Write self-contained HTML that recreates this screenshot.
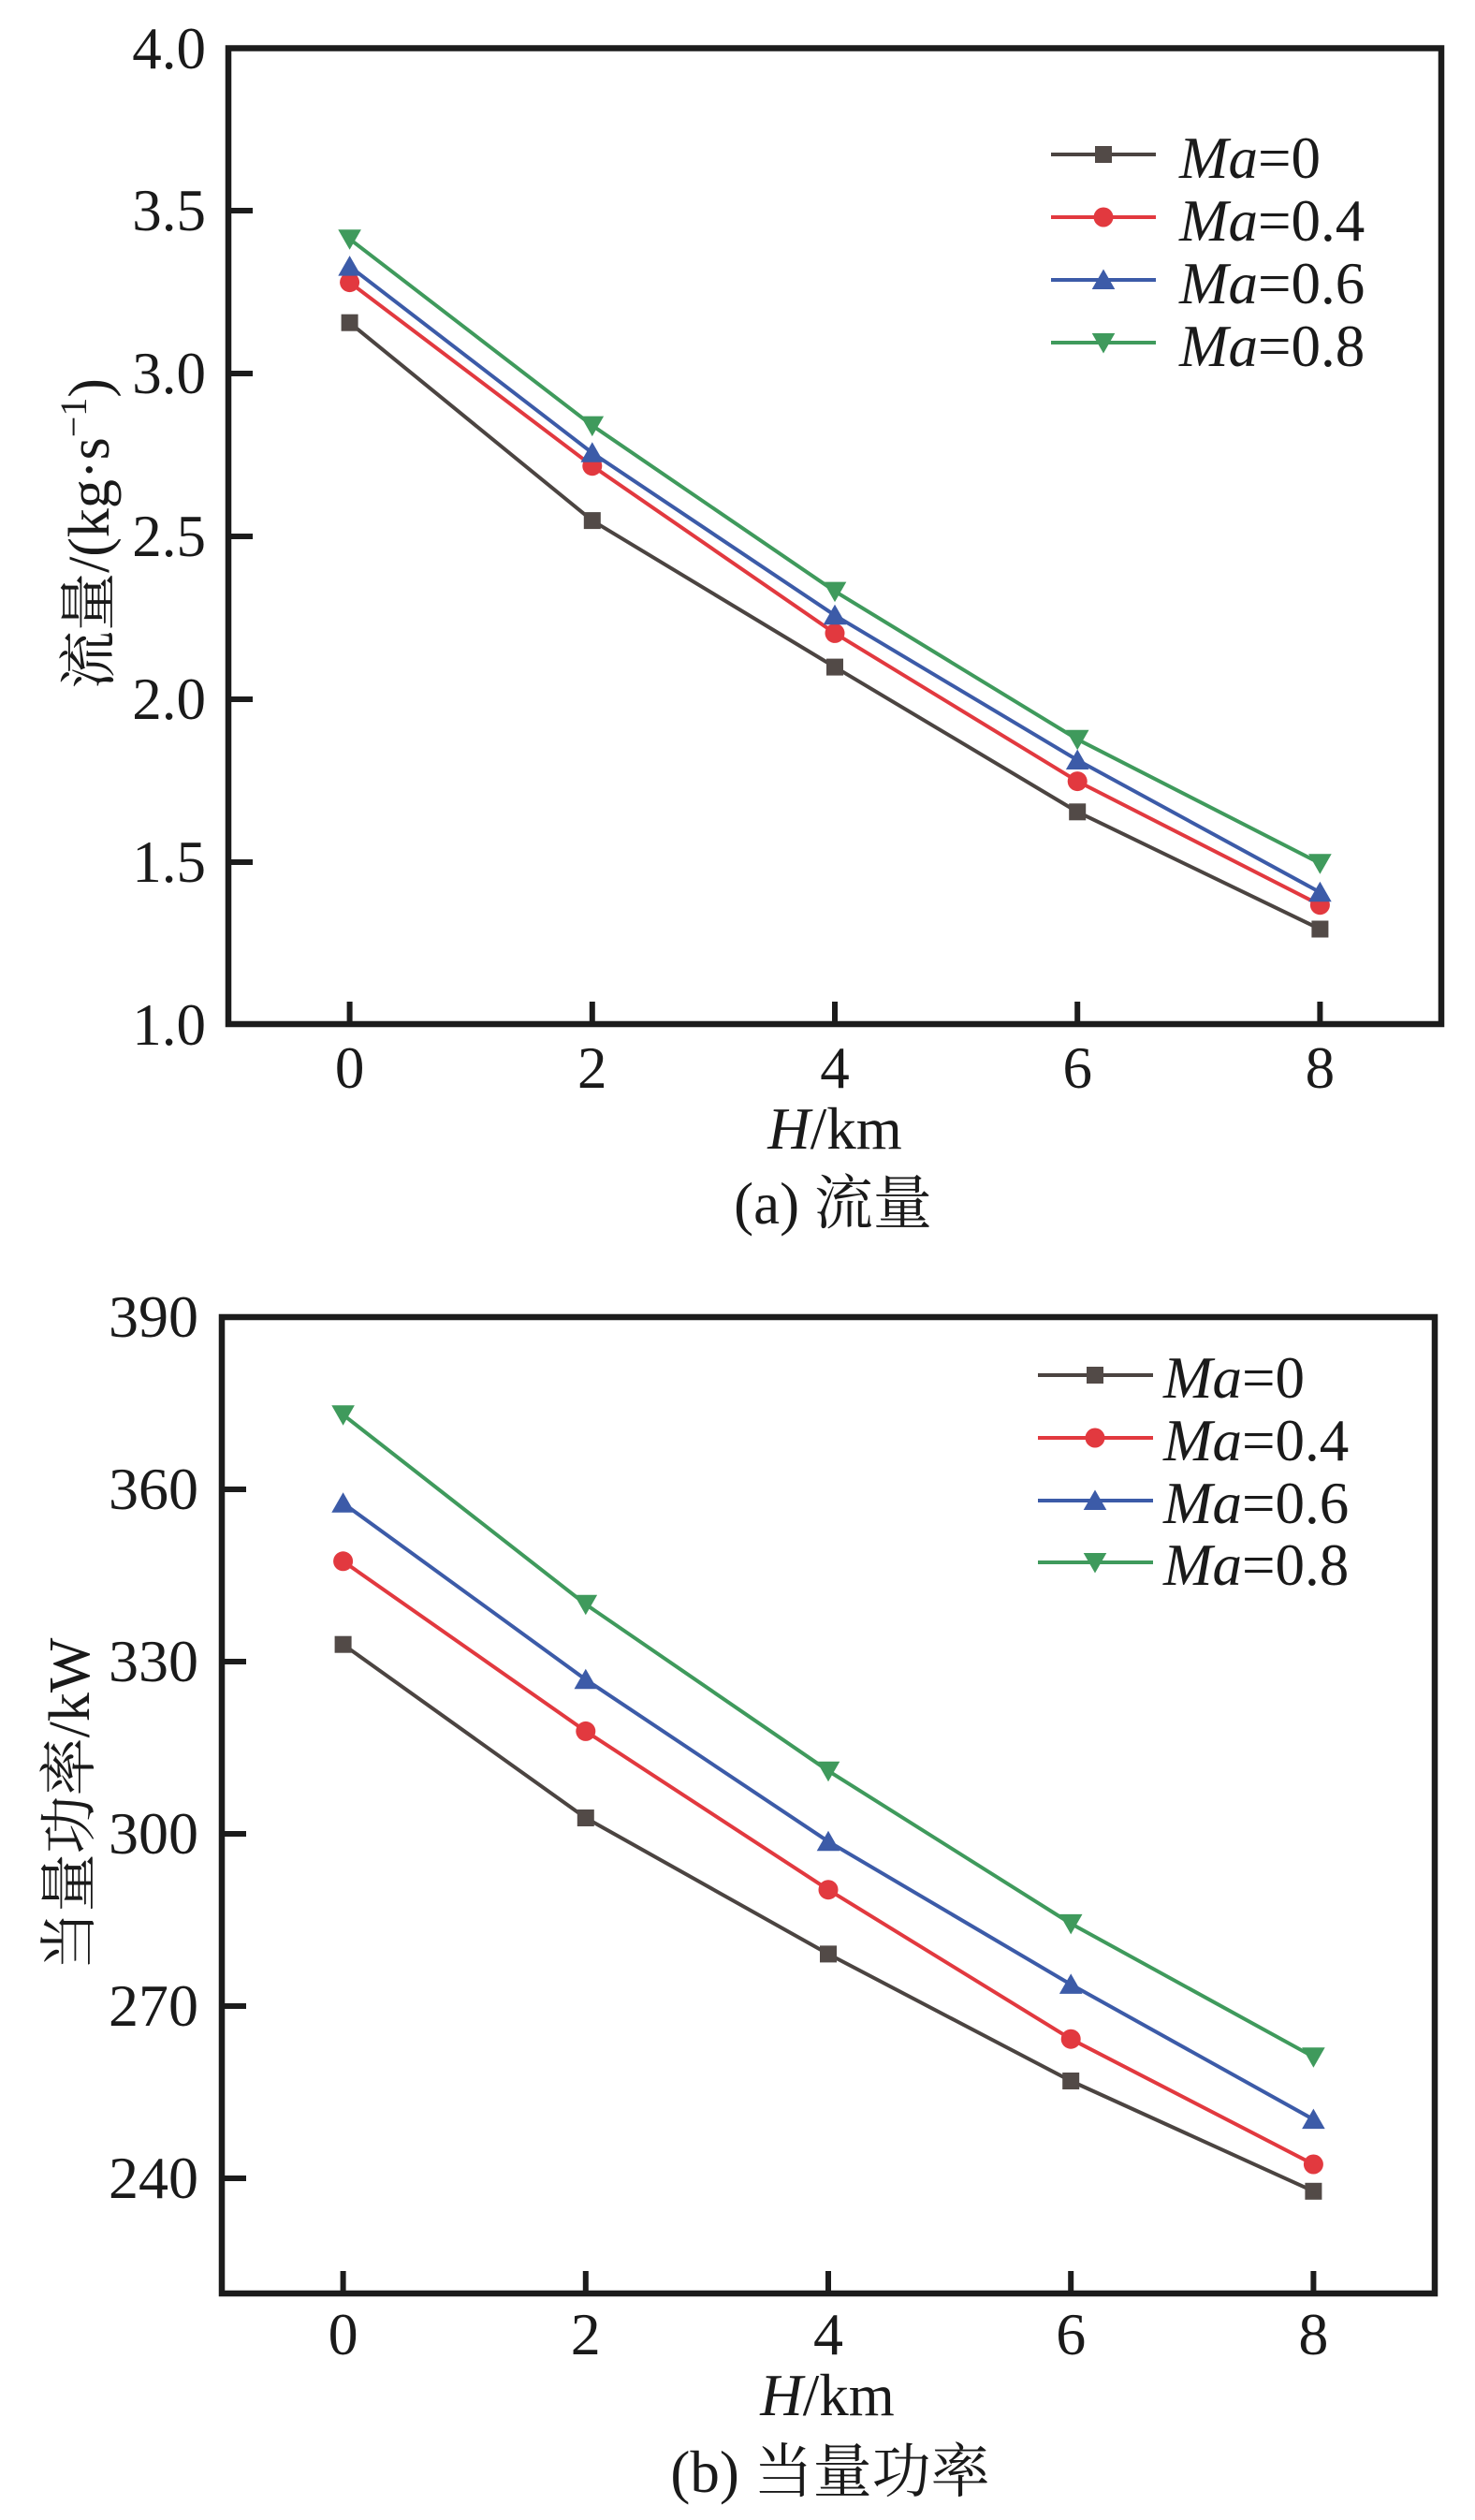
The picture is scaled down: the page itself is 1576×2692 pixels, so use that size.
<!DOCTYPE html>
<html>
<head>
<meta charset="utf-8">
<style>
html,body{margin:0;padding:0;background:#fff;}
svg{display:block;}
text{font-family:"Liberation Serif","Noto Serif CJK SC",serif;fill:#1a1a1a;}
</style>
</head>
<body>
<svg width="1576" height="2692" viewBox="0 0 1576 2692" xmlns="http://www.w3.org/2000/svg" font-family="'Liberation Serif','Noto Serif CJK SC',serif">
<defs>
  <rect id="sq" x="-9" y="-9" width="18" height="18" fill="#524a47"/>
  <circle id="ci" cx="0" cy="0" r="10.5" fill="#e2393f"/>
  <polygon id="tu" points="0,-11.5 12.3,10 -12.3,10" fill="#3c5ba8"/>
  <polygon id="td" points="0,11.5 12.3,-10 -12.3,-10" fill="#3f9a5c"/>
</defs>

<!-- ================= Chart (a) ================= -->
<g>
  <g fill="none" stroke-width="4" stroke-linejoin="round">
    <polyline stroke="#4b4441" points="373.6,344.7 632.8,556.1 892,712.6 1151.2,867.3 1410.4,992.5"/>
    <polyline stroke="#e2393f" points="373.6,301.6 632.8,497.7 892,676.4 1151.2,834.6 1410.4,966.7"/>
    <polyline stroke="#3c5ba8" points="373.6,284.6 632.8,483.8 892,657.3 1151.2,812 1410.4,953.2"/>
    <polyline stroke="#3f9a5c" points="373.6,255.3 632.8,454.6 892,631.6 1151.2,789.8 1410.4,922.2"/>
  </g>
  <use href="#sq" x="373.6" y="344.7"/><use href="#sq" x="632.8" y="556.1"/><use href="#sq" x="892" y="712.6"/><use href="#sq" x="1151.2" y="867.3"/><use href="#sq" x="1410.4" y="992.5"/>
  <use href="#ci" x="373.6" y="301.6"/><use href="#ci" x="632.8" y="497.7"/><use href="#ci" x="892" y="676.4"/><use href="#ci" x="1151.2" y="834.6"/><use href="#ci" x="1410.4" y="966.7"/>
  <use href="#tu" x="373.6" y="284.6"/><use href="#tu" x="632.8" y="483.8"/><use href="#tu" x="892" y="657.3"/><use href="#tu" x="1151.2" y="812"/><use href="#tu" x="1410.4" y="953.2"/>
  <use href="#td" x="373.6" y="255.3"/><use href="#td" x="632.8" y="454.6"/><use href="#td" x="892" y="631.6"/><use href="#td" x="1151.2" y="789.8"/><use href="#td" x="1410.4" y="922.2"/>

  <rect x="244" y="51.5" width="1296" height="1042.5" fill="none" stroke="#1c1c1c" stroke-width="6.5"/>
  <g stroke="#1c1c1c" stroke-width="6">
    <line x1="244" y1="225" x2="270" y2="225"/>
    <line x1="244" y1="399" x2="270" y2="399"/>
    <line x1="244" y1="573" x2="270" y2="573"/>
    <line x1="244" y1="747" x2="270" y2="747"/>
    <line x1="244" y1="921" x2="270" y2="921"/>
    <line x1="373.6" y1="1094" x2="373.6" y2="1070"/>
    <line x1="632.8" y1="1094" x2="632.8" y2="1070"/>
    <line x1="892" y1="1094" x2="892" y2="1070"/>
    <line x1="1151.2" y1="1094" x2="1151.2" y2="1070"/>
    <line x1="1410.4" y1="1094" x2="1410.4" y2="1070"/>
  </g>
  <g font-size="63" text-anchor="end" font-family="'Liberation Serif',serif">
    <text x="220" y="73">4.0</text>
    <text x="220" y="246">3.5</text>
    <text x="220" y="420">3.0</text>
    <text x="220" y="594">2.5</text>
    <text x="220" y="768">2.0</text>
    <text x="220" y="942">1.5</text>
    <text x="220" y="1116">1.0</text>
  </g>
  <g font-size="63" text-anchor="middle" font-family="'Liberation Serif',serif">
    <text x="373.6" y="1162">0</text>
    <text x="632.8" y="1162">2</text>
    <text x="892" y="1162">4</text>
    <text x="1151.2" y="1162">6</text>
    <text x="1410.4" y="1162">8</text>
  </g>
  <text x="892" y="1227" font-size="63" text-anchor="middle"><tspan font-style="italic">H</tspan>/km</text>
  <text x="890" y="1307" font-size="63" text-anchor="middle">(a) 流量</text>
  <text transform="translate(116,570) rotate(-90)" font-size="62" text-anchor="middle">流量/(kg·s<tspan dy="-24" font-size="40">−1</tspan><tspan dy="24">)</tspan></text>

  <g stroke-width="4">
    <line x1="1123" y1="165" x2="1235" y2="165" stroke="#4b4441"/>
    <line x1="1123" y1="232" x2="1235" y2="232" stroke="#e2393f"/>
    <line x1="1123" y1="299" x2="1235" y2="299" stroke="#3c5ba8"/>
    <line x1="1123" y1="366" x2="1235" y2="366" stroke="#3f9a5c"/>
  </g>
  <use href="#sq" x="1179" y="165"/>
  <use href="#ci" x="1179" y="232"/>
  <use href="#tu" x="1179" y="299"/>
  <use href="#td" x="1179" y="366"/>
  <g font-size="63" font-family="'Liberation Serif',serif">
    <text x="1260" y="190"><tspan font-style="italic">Ma</tspan>=0</text>
    <text x="1260" y="257"><tspan font-style="italic">Ma</tspan>=0.4</text>
    <text x="1260" y="324"><tspan font-style="italic">Ma</tspan>=0.6</text>
    <text x="1260" y="391"><tspan font-style="italic">Ma</tspan>=0.8</text>
  </g>
</g>

<!-- ================= Chart (b) ================= -->
<g>
  <g fill="none" stroke-width="4" stroke-linejoin="round">
    <polyline stroke="#4b4441" points="366.6,1756.7 625.8,1942 885,2087.4 1144.2,2223 1403.4,2340.8"/>
    <polyline stroke="#e2393f" points="366.6,1667.8 625.8,1849.4 885,2018.7 1144.2,2178.2 1403.4,2312"/>
    <polyline stroke="#3c5ba8" points="366.6,1605.8 625.8,1794.2 885,1967.2 1144.2,2119.9 1403.4,2264.1"/>
    <polyline stroke="#3f9a5c" points="366.6,1511.3 625.8,1713.8 885,1891.7 1144.2,2054.9 1403.4,2197.2"/>
  </g>
  <use href="#sq" x="366.6" y="1756.7"/><use href="#sq" x="625.8" y="1942"/><use href="#sq" x="885" y="2087.4"/><use href="#sq" x="1144.2" y="2223"/><use href="#sq" x="1403.4" y="2340.8"/>
  <use href="#ci" x="366.6" y="1667.8"/><use href="#ci" x="625.8" y="1849.4"/><use href="#ci" x="885" y="2018.7"/><use href="#ci" x="1144.2" y="2178.2"/><use href="#ci" x="1403.4" y="2312"/>
  <use href="#tu" x="366.6" y="1605.8"/><use href="#tu" x="625.8" y="1794.2"/><use href="#tu" x="885" y="1967.2"/><use href="#tu" x="1144.2" y="2119.9"/><use href="#tu" x="1403.4" y="2264.1"/>
  <use href="#td" x="366.6" y="1511.3"/><use href="#td" x="625.8" y="1713.8"/><use href="#td" x="885" y="1891.7"/><use href="#td" x="1144.2" y="2054.9"/><use href="#td" x="1403.4" y="2197.2"/>

  <rect x="237" y="1407" width="1296" height="1043" fill="none" stroke="#1c1c1c" stroke-width="6.5"/>
  <g stroke="#1c1c1c" stroke-width="6">
    <line x1="237" y1="1591" x2="263" y2="1591"/>
    <line x1="237" y1="1775" x2="263" y2="1775"/>
    <line x1="237" y1="1959" x2="263" y2="1959"/>
    <line x1="237" y1="2143" x2="263" y2="2143"/>
    <line x1="237" y1="2327" x2="263" y2="2327"/>
    <line x1="366.6" y1="2450" x2="366.6" y2="2426"/>
    <line x1="625.8" y1="2450" x2="625.8" y2="2426"/>
    <line x1="885" y1="2450" x2="885" y2="2426"/>
    <line x1="1144.2" y1="2450" x2="1144.2" y2="2426"/>
    <line x1="1403.4" y1="2450" x2="1403.4" y2="2426"/>
  </g>
  <g font-size="64" text-anchor="end" font-family="'Liberation Serif',serif">
    <text x="212" y="1428">390</text>
    <text x="212" y="1612">360</text>
    <text x="212" y="1796">330</text>
    <text x="212" y="1980">300</text>
    <text x="212" y="2164">270</text>
    <text x="212" y="2348">240</text>
  </g>
  <g font-size="64" text-anchor="middle" font-family="'Liberation Serif',serif">
    <text x="366.6" y="2515">0</text>
    <text x="625.8" y="2515">2</text>
    <text x="885" y="2515">4</text>
    <text x="1144.2" y="2515">6</text>
    <text x="1403.4" y="2515">8</text>
  </g>
  <text x="884" y="2580" font-size="63" text-anchor="middle"><tspan font-style="italic">H</tspan>/km</text>
  <text x="887" y="2662" font-size="63" text-anchor="middle">(b) 当量功率</text>
  <text transform="translate(95,1927) rotate(-90)" font-size="62" text-anchor="middle">当量功率/kW</text>

  <g stroke-width="4">
    <line x1="1109" y1="1469" x2="1232" y2="1469" stroke="#4b4441"/>
    <line x1="1109" y1="1536" x2="1232" y2="1536" stroke="#e2393f"/>
    <line x1="1109" y1="1603" x2="1232" y2="1603" stroke="#3c5ba8"/>
    <line x1="1109" y1="1669" x2="1232" y2="1669" stroke="#3f9a5c"/>
  </g>
  <use href="#sq" x="1170" y="1469"/>
  <use href="#ci" x="1170" y="1536"/>
  <use href="#tu" x="1170" y="1603"/>
  <use href="#td" x="1170" y="1669"/>
  <g font-size="63" font-family="'Liberation Serif',serif">
    <text x="1243" y="1493"><tspan font-style="italic">Ma</tspan>=0</text>
    <text x="1243" y="1560"><tspan font-style="italic">Ma</tspan>=0.4</text>
    <text x="1243" y="1627"><tspan font-style="italic">Ma</tspan>=0.6</text>
    <text x="1243" y="1693"><tspan font-style="italic">Ma</tspan>=0.8</text>
  </g>
</g>
</svg>
</body>
</html>
